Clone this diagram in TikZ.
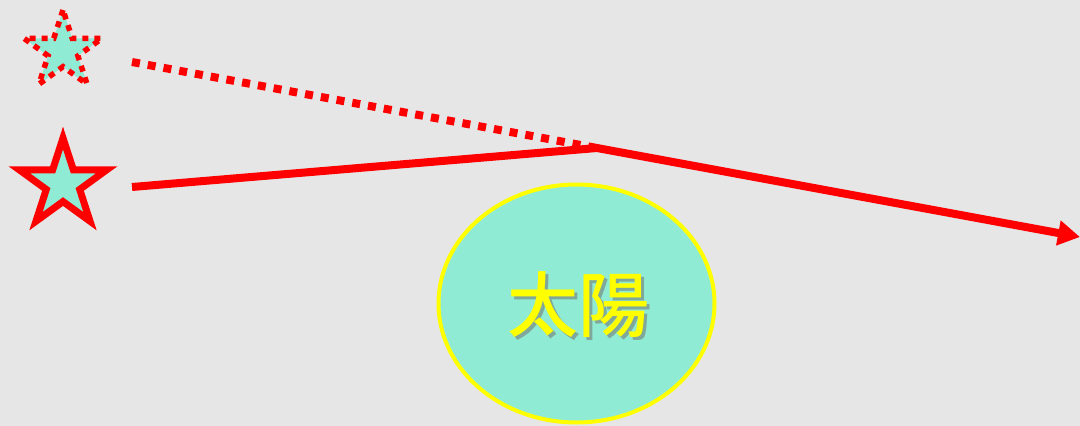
\documentclass[tikz,border=0pt]{standalone}
\usepackage{fontspec}
\newfontfamily\cjk{Noto Sans CJK JP Medium}
\usetikzlibrary{shapes.geometric,arrows.meta}
\definecolor{bg}{HTML}{E6E6E6}
\definecolor{teal}{HTML}{90EBD4}
\definecolor{sunline}{HTML}{FFFF00}
\definecolor{shade}{HTML}{7FA89B}
\newcommand{\shadowtext}[1]{\rlap{\hspace{3pt}\raisebox{-3.5pt}{\textcolor{shade}{#1}}}\textcolor{sunline}{#1}}
\begin{document}
\begin{tikzpicture}[x=1pt,y=-1pt,
  starshape/.style={star,star points=5,star point ratio=2.618,inner sep=0pt,fill=teal,draw=red,miter limit=10},
  ray/.style={draw=red,line width=8pt}]
\fill[bg] (0,0) rectangle (1080,426);
\useasboundingbox (0,0) rectangle (1080,426);
\node[starshape,minimum size=82pt,line width=5.5pt,dash pattern=on 6pt off 6pt] (s1) at (63,51) {};
\node[starshape,minimum size=92pt,line width=7pt] (s2) at (63,184) {};
\node[ellipse,fill=teal,draw=sunline,line width=4pt,minimum width=276pt,minimum height=238pt,inner sep=0pt] (sun) at (576.5,303.5) {};
\node[font=\cjk\fontsize{71}{71}\selectfont] (label) at (578,306) {\shadowtext{太陽}};
\coordinate (a1) at (132,62);
\coordinate (a2) at (132,187);
\coordinate (b) at (597,148);
\coordinate (c) at (1080,237);
\draw[ray,dash pattern=on 8pt off 8pt] (a1) -- (b);
\draw[ray,-{Triangle[length=22pt,width=24pt]},line join=miter] (a2) -- (b) -- (c);
\end{tikzpicture}
\end{document}
